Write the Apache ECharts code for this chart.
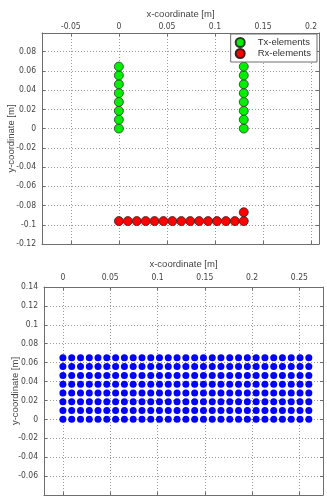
<!DOCTYPE html>
<html>
<head>
<meta charset="utf-8">
<script src="https://cdn.jsdelivr.net/npm/echarts@6/dist/echarts.min.js"></script>
<style>
html,body{margin:0;padding:0;background:#fff;}
#c{width:327px;height:502px;}
</style>
</head>
<body>
<div id="c"></div>
<script>
// ---- data ----
var txColumnX = [0, 0.13];
var txRowY = [0, 0.0092, 0.0184, 0.0276, 0.0368, 0.046, 0.0552, 0.0644];
var rxX = [0, 0.0093, 0.0186, 0.0279, 0.0371, 0.0464, 0.0557, 0.065, 0.0743, 0.0836, 0.0929, 0.1021, 0.1114, 0.1207, 0.13, 0.13];
var rxY = [-0.0962, -0.0962, -0.0962, -0.0962, -0.0962, -0.0962, -0.0962, -0.0962, -0.0962, -0.0962, -0.0962, -0.0962, -0.0962, -0.0962, -0.0962, -0.087];
var virtColumnX = [0, 0.0093, 0.0186, 0.0279, 0.0371, 0.0464, 0.0557, 0.065, 0.0743, 0.0836, 0.0929, 0.1021, 0.1114, 0.1207, 0.13, 0.1393, 0.1486, 0.1579, 0.1671, 0.1764, 0.1857, 0.195, 0.2043, 0.2136, 0.2229, 0.2321, 0.2414, 0.2507, 0.26];
var virtRowY = [0, 0.0093, 0.0186, 0.0279, 0.0372, 0.0465, 0.0558, 0.0651];
var legendNames = ['Tx-elements', 'Rx-elements'];
var xName = 'x-coordinate [m]';
var yName = 'y-coordinate [m]';

// ---- build point tables ----
var txData = [];
txColumnX.forEach(function (x) { txRowY.forEach(function (y) { txData.push([x, y]); }); });
var rxData = rxX.map(function (x, i) { return [x, rxY[i]]; });
var virtData = [];
virtRowY.forEach(function (y) { virtColumnX.forEach(function (x) { virtData.push([x, y]); }); });

var FONT = 'Liberation Sans, Arial, sans-serif';
var TICKFONT = '"Liberation Sans Narrow", "DejaVu Sans Condensed", "Liberation Sans", sans-serif';
var TXT = '#444';
var FRAME = '#6e6e6e';
var gridLine = { show: true, lineStyle: { color: '#9a9a9a', type: [1, 2], width: 1 } };
var tickFontSize = 8.5;

function mainX(gi, min, max, step, gap, margin) {
  return {
    type: 'value', gridIndex: gi, position: 'top', min: min, max: max,
    minInterval: step, maxInterval: step,
    name: xName, nameLocation: 'middle', nameGap: gap, nameMoveOverlap: false,
    nameTextStyle: { color: TXT, fontFamily: FONT, fontSize: 9.5 },
    axisLine: { show: true, onZero: false, lineStyle: { color: FRAME } },
    axisTick: { show: true, inside: true, length: 3, lineStyle: { color: FRAME } },
    axisLabel: { color: TXT, fontFamily: TICKFONT, fontSize: tickFontSize, margin: margin, showMinLabel: false, showMaxLabel: false },
    splitLine: gridLine
  };
}
function mainY(gi, min, max, step, hideMin, hideMax, gap) {
  return {
    type: 'value', gridIndex: gi, position: 'left', min: min, max: max,
    minInterval: step, maxInterval: step,
    name: yName, nameLocation: 'middle', nameGap: gap, nameRotate: 90, nameMoveOverlap: false,
    nameTextStyle: { color: TXT, fontFamily: FONT, fontSize: 9.5 },
    axisLine: { show: true, onZero: false, lineStyle: { color: FRAME } },
    axisTick: { show: true, inside: true, length: 3, lineStyle: { color: FRAME } },
    axisLabel: { color: TXT, fontFamily: TICKFONT, fontSize: tickFontSize, margin: 6, showMinLabel: !hideMin, showMaxLabel: !hideMax },
    splitLine: gridLine
  };
}
function sideX(gi, min, max, step) {
  return {
    type: 'value', gridIndex: gi, position: 'bottom', min: min, max: max,
    minInterval: step, maxInterval: step,
    axisLine: { show: true, onZero: false, lineStyle: { color: FRAME } },
    axisTick: { show: true, inside: true, length: 3, lineStyle: { color: FRAME } },
    axisLabel: { show: false }, splitLine: { show: false }
  };
}
function sideY(gi, min, max, step) {
  return {
    type: 'value', gridIndex: gi, position: 'right', min: min, max: max,
    minInterval: step, maxInterval: step,
    axisLine: { show: true, onZero: false, lineStyle: { color: FRAME } },
    axisTick: { show: true, inside: true, length: 3, lineStyle: { color: FRAME } },
    axisLabel: { show: false }, splitLine: { show: false }
  };
}

var chart = echarts.init(document.getElementById('c'), null, { renderer: 'canvas' });
chart.setOption({
  backgroundColor: '#ffffff',
  animation: false,
  textStyle: { fontFamily: FONT },
  grid: [
    { left: 42, right: 8, top: 33, height: 211, containLabel: false, outerBoundsMode: 'none' },
    { left: 44, right: 4, top: 287, height: 208, containLabel: false, outerBoundsMode: 'none' }
  ],
  xAxis: [
    mainX(0, -0.08, 0.2083, 0.05, 14, 2),
    mainX(1, -0.02, 0.275, 0.05, 18, 5),
    sideX(0, -0.08, 0.2083, 0.05),
    sideX(1, -0.02, 0.275, 0.05)
  ],
  yAxis: [
    mainY(0, -0.12, 0.0993, 0.02, false, true, 26),
    mainY(1, -0.08, 0.14, 0.02, true, false, 24),
    sideY(0, -0.12, 0.0993, 0.02),
    sideY(1, -0.08, 0.14, 0.02)
  ],
  legend: {
    data: legendNames,
    orient: 'vertical',
    right: 10, top: 34,
    padding: [3, 6, 3, 4],
    itemGap: 0,
    itemWidth: 25, itemHeight: 9,
    icon: 'circle',
    backgroundColor: '#ffffff',
    borderColor: '#6e6e6e', borderWidth: 1,
    textStyle: { color: '#333', fontFamily: FONT, fontSize: 9.5, lineHeight: 11, padding: 0 }
  },
  series: [
    { name: legendNames[0], type: 'scatter', xAxisIndex: 0, yAxisIndex: 0, data: txData,
      symbol: 'circle', symbolSize: 9,
      itemStyle: { color: '#00ee00', borderColor: '#2a3a2a', borderWidth: 0.8, opacity: 1 } },
    { name: legendNames[1], type: 'scatter', xAxisIndex: 0, yAxisIndex: 0, data: rxData,
      symbol: 'circle', symbolSize: 9,
      itemStyle: { color: '#ff0000', borderColor: '#3a2020', borderWidth: 0.8, opacity: 1 } },
    { name: 'virtual', type: 'scatter', xAxisIndex: 1, yAxisIndex: 1, data: virtData,
      symbol: 'circle', symbolSize: 7,
      itemStyle: { color: '#0000ff', opacity: 1 } }
  ]
});
</script>
</body>
</html>
